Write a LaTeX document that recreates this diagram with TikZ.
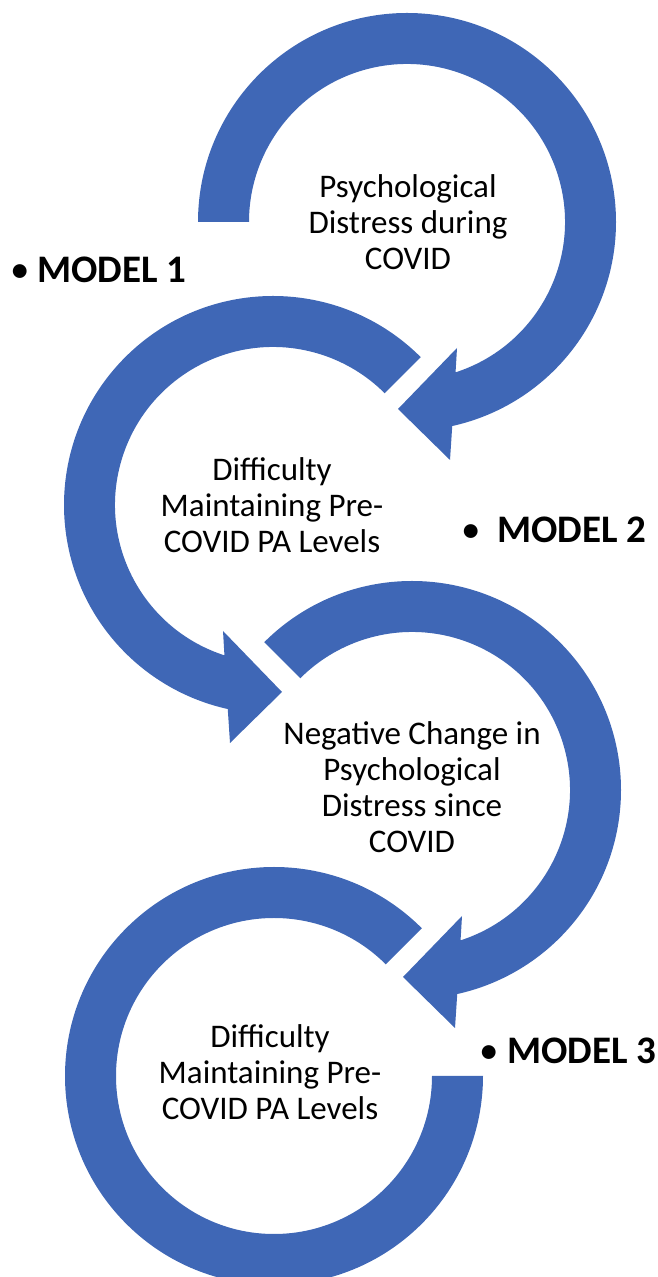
\documentclass[tikz,border=0pt]{standalone}
\usepackage{fontspec}
\setmainfont{Carlito}
\definecolor{arrowblue}{RGB}{63,103,182}
\tikzset{
  ring/.style={fill=arrowblue, draw=none},
  stagetext/.style={font=\fontsize{33}{36}\selectfont, align=center, inner sep=0pt, outer sep=0pt, text=black},
  modeltext/.style={font=\fontsize{39}{44}\selectfont\bfseries, inner sep=0pt, outer sep=0pt, anchor=base west, text=black},
  bulletmark/.style={font=\fontsize{39}{44}\selectfont, inner sep=0pt, outer sep=0pt, anchor=base, text=black},
}
% clockwise circular arrow, head at bottom pointing left; #1 = tail angle
\newcommand{\cwarrowpath}[1]{(#1:209) arc[start angle=#1, end angle=-77.5, radius=209] -- (43,-238) -- (-9,-187) -- (50,-126) -- (-72.1:158) arc[start angle=-72.1, end angle=#1, radius=158] -- cycle}
% counter-clockwise circular arrow, head at bottom pointing right; #1 = tail angle
\newcommand{\ccwarrowpath}[1]{(#1:209) arc[start angle=#1, end angle=257.5, radius=209] -- (-43,-238) -- (9,-187) -- (-50,-126) -- (252.1:158) arc[start angle=252.1, end angle=#1, radius=158] -- cycle}
\begin{document}
\begin{tikzpicture}[x=1pt,y=1pt]
\useasboundingbox (0,0) rectangle (657,1277);
% arrow 1
\begin{scope}[shift={(407,1055)}]
  \fill[ring] \cwarrowpath{180};
\end{scope}
% arrow 2
\begin{scope}[shift={(273,772)}]
  \fill[ring] \ccwarrowpath{45};
\end{scope}
% arrow 3
\begin{scope}[shift={(412,487)}]
  \fill[ring] \cwarrowpath{135};
\end{scope}
% ring 4
\begin{scope}[shift={(274,201)}]
  \fill[ring] (45:209) arc[start angle=45, end angle=360, radius=209] -- (0:158) arc[start angle=360, end angle=45, radius=158] -- cycle;
\end{scope}
% stage texts
\node[stagetext] (s1) at (408,1055) {Psychological\\Distress during\\COVID};
\node[stagetext] (s2) at (272,772) {Difficulty\\Maintaining Pre-\\COVID PA Levels};
\node[stagetext] (s3) at (412,490) {Negative Change in\\Psychological\\Distress since\\COVID};
\node[stagetext] (s4) at (270,205) {Difficulty\\Maintaining Pre-\\COVID PA Levels};
% model labels
\node[bulletmark] (b1) at (20,994) {•};
\node[modeltext] (m1) at (37,994) {MODEL 1};
\node[bulletmark] (b2) at (471,734) {•};
\node[modeltext] (m2) at (497,734) {MODEL 2};
\node[bulletmark] (b3) at (489,213) {•};
\node[modeltext] (m3) at (507,213) {MODEL 3};
\end{tikzpicture}
\end{document}
